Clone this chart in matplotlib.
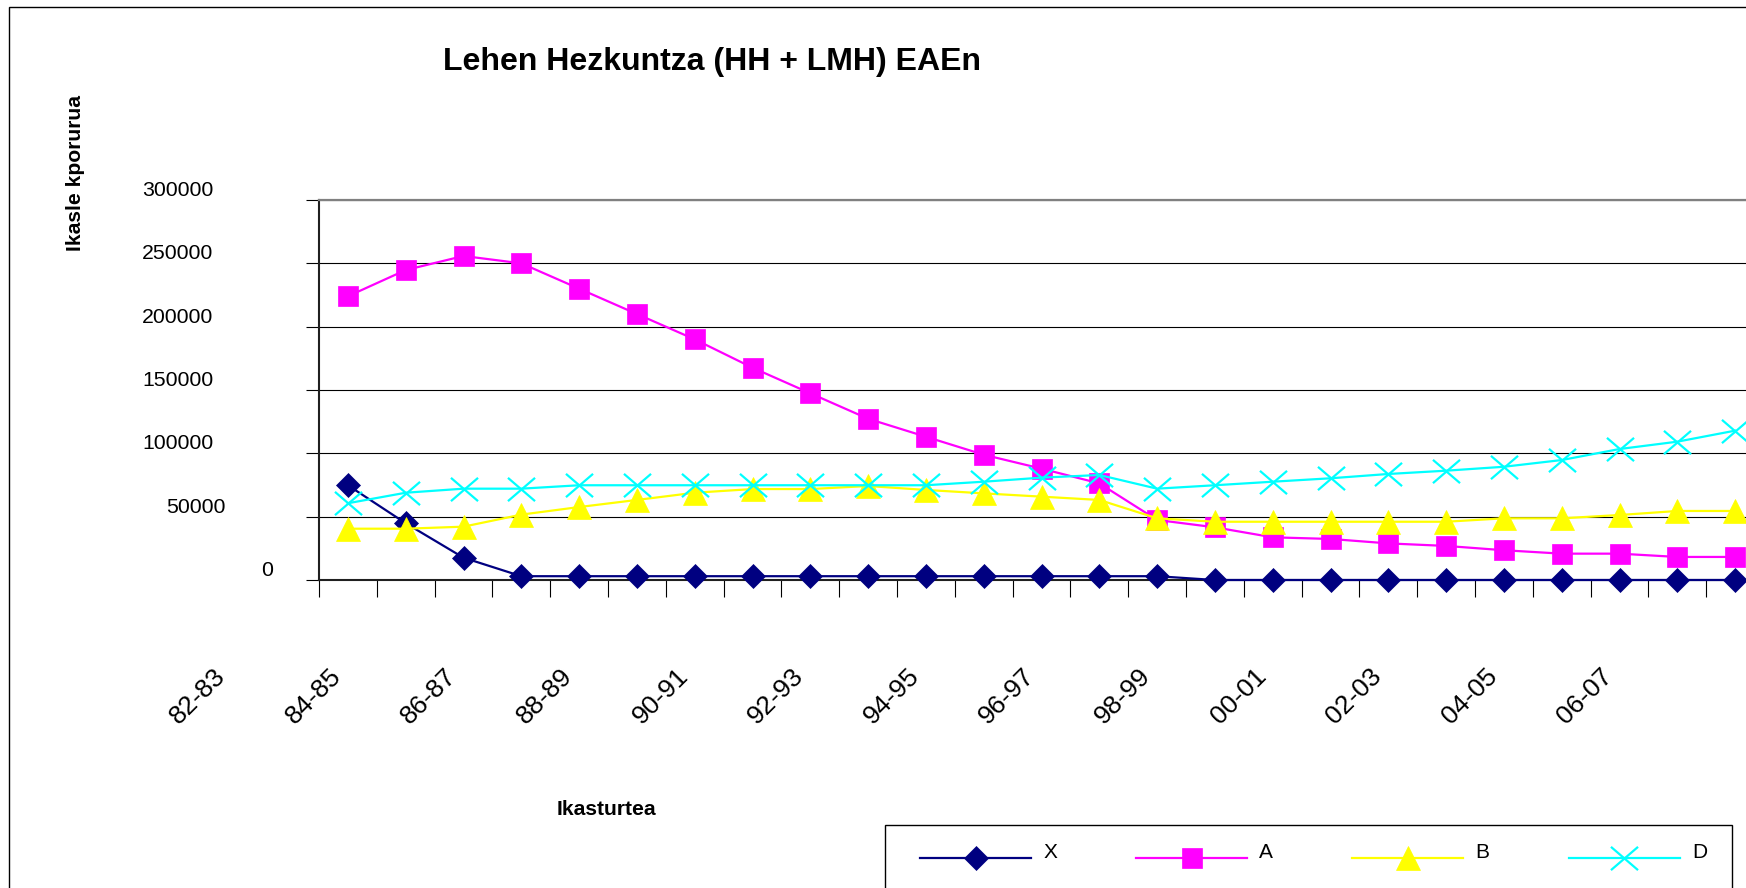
import numpy as np
import matplotlib
matplotlib.use("Agg")
import matplotlib.pyplot as plt
from matplotlib.path import Path
from matplotlib.patches import Rectangle
from matplotlib.transforms import blended_transform_factory, ScaledTranslation

plt.rcParams['font.family'] = ['Liberation Sans', 'DejaVu Sans']

# ---------------- data ----------------
title = "Lehen Hezkuntza (HH + LMH) EAEn"
y_title = "Ikasle kporurua"
x_title = "Ikasturtea"

categories = ['82-83', '83-84', '84-85', '85-86', '86-87', '87-88', '88-89', '89-90',
              '90-91', '91-92', '92-93', '93-94', '94-95', '95-96', '96-97', '97-98',
              '98-99', '99-00', '00-01', '01-02', '02-03', '03-04', '04-05', '05-06',
              '06-07']

series_names = ['X', 'A', 'B', 'D']

X_vals = [74800, 44800, 17600, 3000, 3000, 3000, 3000, 3000, 3000, 3000, 3000, 3000,
          3000, 3000, 3000, 0, 0, 0, 0, 0, 0, 0, 0, 0, 0]
A_vals = [224000, 244700, 255800, 250000, 230000, 210000, 190000, 167600, 147400,
          127300, 113100, 98900, 87900, 76300, 47400, 41600, 33700, 32400, 28900,
          26900, 23500, 20800, 20800, 18200, 18200]
B_vals = [40500, 40500, 42100, 51600, 57600, 63200, 68900, 71800, 71800, 74200,
          71100, 68400, 65800, 63200, 48700, 46000, 46000, 46000, 46000, 46000,
          48700, 48700, 51300, 54500, 54500]
D_vals = [60600, 68900, 72100, 72100, 74800, 74800, 74800, 74800, 74800, 74800,
          74800, 77600, 80800, 82900, 72100, 74800, 77600, 80300, 83700, 86300,
          89400, 94700, 103400, 109200, 117900]

y_ticks = [0, 50000, 100000, 150000, 200000, 250000, 300000]

# ---------------- figure ----------------
W, H = 1746, 888
fig = plt.figure(figsize=(W / 100, H / 100), dpi=100)

def fx(px):
    return px / W

def fy(py):  # py measured from top
    return (H - py) / H

ax_left, ax_right, ax_top, ax_bottom = 319, 1764, 200, 580
ax = fig.add_axes([fx(ax_left), fy(ax_bottom), (ax_right - ax_left) / W,
                   (ax_bottom - ax_top) / H])

n = len(categories)
xs = np.arange(n)
ax.set_xlim(-0.5, n - 0.5)
ax.set_ylim(y_ticks[0], y_ticks[-1])

# cross marker wider than tall
xmark = Path([(-1, -0.86), (1, 0.86), (-1, 0.86), (1, -0.86)],
             [Path.MOVETO, Path.LINETO, Path.MOVETO, Path.LINETO])

styles = [
    dict(color='#000080', marker='D', markersize=12, mfc='#000080', mec='#000080', mew=0.5),
    dict(color='#FF00FF', marker='s', markersize=14.5, mfc='#FF00FF', mec='#FF00FF', mew=0.5),
    dict(color='#FFFF00', marker='^', markersize=17, mfc='#FFFF00', mec='#FFFF00', mew=0.5),
    dict(color='#00FFFF', marker=xmark, markersize=19.5, mfc='none', mec='#00FFFF', mew=1.6),
]
handles = []
for vals, name, st in zip([X_vals, A_vals, B_vals, D_vals], series_names, styles):
    h, = ax.plot(xs, vals, lw=1.6, label=name, clip_on=False, zorder=3, **st)
    handles.append(h)

# grid & spines
ax.set_yticks(y_ticks)
ax.yaxis.grid(True, color='black', lw=0.8)
ax.set_axisbelow(True)
ax.spines['top'].set_color('#808080')
ax.spines['top'].set_linewidth(1.6)
ax.spines['right'].set_visible(False)
for s in ('left', 'bottom'):
    ax.spines[s].set_color('#202020')
    ax.spines[s].set_linewidth(1.5)
    ax.spines[s].set_zorder(2)

ax.set_xticks(np.arange(-0.5, n, 1.0))
ax.tick_params(axis='x', length=12.2, width=0.8, direction='out', labelbottom=False,
               color='black')
ax.tick_params(axis='y', length=9.4, width=0.8, direction='out', labelleft=False,
               color='black')

# y tick labels (as rendered in the original: shifted per digit count, above gridlines)
ytrans = blended_transform_factory(fig.transFigure, ax.transData) + \
    ScaledTranslation(0, 4 / 100, fig.dpi_scale_trans)
for v in y_ticks:
    lab = str(v)
    right_px = 213.3 + 12 * (6 - len(lab))
    ax.text(fx(right_px), v, lab, transform=ytrans, ha='right', va='baseline',
            fontsize=15.3, clip_on=False)

# x tick labels: every other category, rendered shifted two categories to the left
xtrans = blended_transform_factory(ax.transData, ax.transAxes) + \
    ScaledTranslation(-2 / 100, 0, fig.dpi_scale_trans)
label_y = (ax_bottom - 664) / (ax_bottom - ax_top)
for i in range(0, n, 2):
    ax.text(i - 2, label_y, categories[i], transform=xtrans, rotation=45,
            ha='right', va='top', fontsize=19, clip_on=False)

# titles
fig.text(fx(712), fy(70), title, ha='center', va='baseline', fontsize=23,
         fontweight='bold')
fig.text(fx(75.5), fy(173), y_title, rotation=90, ha='center', va='center',
         fontsize=15.2, fontweight='bold')
fig.text(fx(606), fy(815), x_title, ha='center', va='baseline', fontsize=15.2,
         fontweight='bold')

# legend
leg = fig.legend(handles, series_names, loc='upper left',
                 bbox_to_anchor=(fx(920), fy(850)), ncol=4, frameon=False,
                 borderpad=0, borderaxespad=0, handlelength=5.33, handletextpad=0.58,
                 columnspacing=3.8, fontsize=15, numpoints=1)
for t in leg.get_texts():
    t.set_y(7)
fig.add_artist(Rectangle((fx(885), fy(905)), (1732 - 885) / W, (905 - 825) / H,
                         transform=fig.transFigure, fill=False, edgecolor='black',
                         lw=1.0, clip_on=False))

# outer chart border
fig.add_artist(Rectangle((fx(9.3), fy(905)), 2.0, (905 - 7.3) / H,
                         transform=fig.transFigure, fill=False, edgecolor='black',
                         lw=1.0, clip_on=False))

fig.savefig('out.png', dpi=100)
